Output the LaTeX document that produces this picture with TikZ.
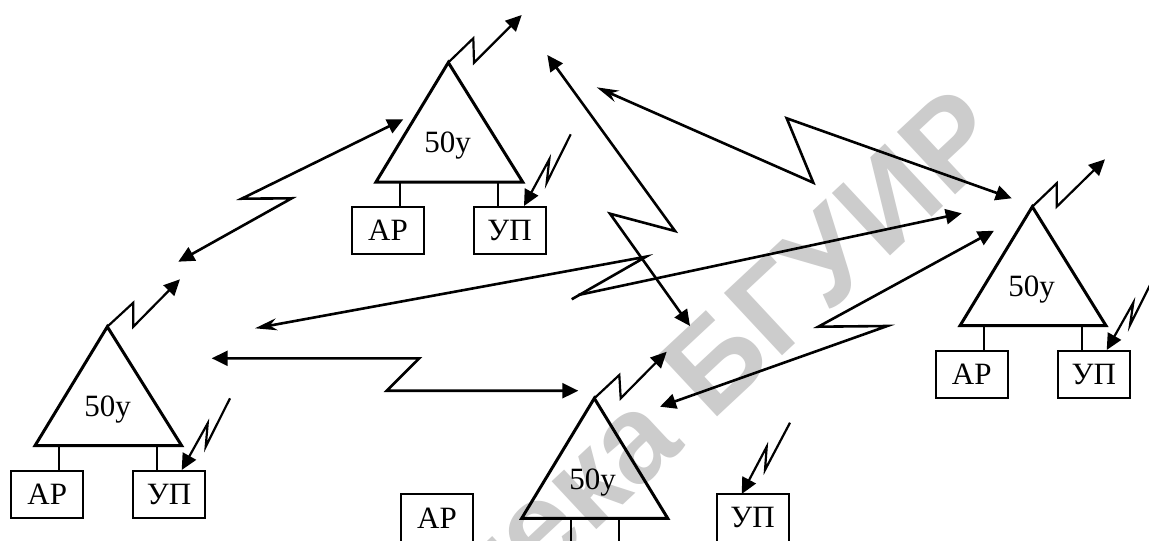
\documentclass[tikz,border=0pt]{standalone}
\usepackage{fontspec}
\setmainfont{Liberation Serif}
\newfontfamily\wmfont{Liberation Sans}
\usetikzlibrary{arrows.meta}
\tikzset{
  tri/.style={line width=1.5pt, line join=miter},
  link/.style={line width=1.3pt, line join=miter},
  zap/.style={line width=1.1pt, line join=miter},
  stub/.style={line width=1pt},
  box/.style={draw, line width=1pt, minimum width=36pt, minimum height=23.7pt, inner sep=0pt, font=\fontsize{15.5}{18}\selectfont},
  lbl/.style={font=\fontsize{15.5}{18}\selectfont, inner sep=0pt, anchor=base},
  ftip/.style={-{Triangle[length=8pt,width=7.5pt]}},
  dtip/.style={{Triangle[length=8pt,width=7.5pt]}-{Triangle[length=8pt,width=7.5pt]}},
  stip/.style={{Stealth[length=11pt,width=6pt,inset=3.5pt]}-{Triangle[length=8pt,width=7.5pt]}},
  sonly/.style={{Stealth[length=11pt,width=6pt,inset=3.5pt]}-},
  wm/.style={text=gray!40, font=\wmfont\bfseries\fontsize{62}{68}\selectfont, inner sep=0pt}
}
\begin{document}
\begin{tikzpicture}[x=0.5pt,y=-0.5pt]
\useasboundingbox (0,0) rectangle (1149,540);
\clip (0,0) rectangle (1149,540);
\fill[white] (0,0) rectangle (1149,540);
% watermark
\node[wm, rotate=43, anchor=base east] (wmark) at (1010,144) {Библиотека БГУИР};

% ---------- station 1 (top middle)
\coordinate (t1a) at (448.3,62.5);
\coordinate (t1l) at (376,182);
\coordinate (t1r) at (522.7,182);
\draw[tri] (t1a) -- (t1l) -- (t1r) -- cycle;
\node[lbl] (t1t) at (447.5,152.3) {50у};
\node[box] (t1ap) at (388,230.5) {АР};
\node[box] (t1up) at (509.5,230.5) {УП};
\draw[stub] (400,182) -- (t1ap.north -| 400,0);
\draw[stub] (497.7,182) -- (t1up.north -| 497.7,0);
\coordinate (t1e) at (521.7,15);
\draw[zap,ftip] (t1a) -- (473.3,38.3) -- (474,62.7) -- (t1e);
\coordinate (t1z) at (570.7,134.3);
\draw[zap,ftip] (t1z) -- (546.7,182.7) -- (549.3,159.3) -- (524,206);

% ---------- station 2 (left)
\coordinate (t2a) at (107.3,326.7);
\coordinate (t2l) at (35,445.7);
\coordinate (t2r) at (181.7,445.7);
\draw[tri] (t2a) -- (t2l) -- (t2r) -- cycle;
\node[lbl] (t2t) at (107.7,416.7) {50у};
\node[box] (t2ap) at (47.3,494.2) {АР};
\node[box] (t2up) at (169,494.2) {УП};
\draw[stub] (59.3,445.7) -- (t2ap.north -| 59.3,0);
\draw[stub] (156.7,445.7) -- (t2up.north -| 156.7,0);
\coordinate (t2e) at (180,279.3);
\draw[zap,ftip] (t2a) -- (133.3,302.7) -- (133.3,326.7) -- (t2e);
\coordinate (t2z) at (230,398.3);
\draw[zap,ftip] (t2z) -- (205.7,446.7) -- (207.7,423.3) -- (181.7,470);

% ---------- station 3 (right)
\coordinate (t3a) at (1032.3,206.7);
\coordinate (t3l) at (960,325.7);
\coordinate (t3r) at (1106,325.7);
\draw[tri] (t3a) -- (t3l) -- (t3r) -- cycle;
\node[lbl] (t3t) at (1031.5,296.7) {50у};
\node[box] (t3ap) at (971.7,374.2) {АР};
\node[box] (t3up) at (1093.7,374.2) {УП};
\draw[stub] (984,325.7) -- (t3ap.north -| 984,0);
\draw[stub] (1081.7,325.7) -- (t3up.north -| 1081.7,0);
\coordinate (t3e) at (1105,159.3);
\draw[zap,ftip] (t3a) -- (1056.7,183.3) -- (1056.7,206.7) -- (t3e);
\coordinate (t3z) at (1154,277);
\draw[zap,ftip] (t3z) -- (1130,325) -- (1133.3,302.7) -- (1106.7,350);

% ---------- station 4 (bottom middle)
\coordinate (t4a) at (594.3,398.3);
\coordinate (t4l) at (521.7,518.3);
\coordinate (t4r) at (667.7,518.3);
\draw[tri] (t4a) -- (t4l) -- (t4r) -- cycle;
\node[lbl] (t4t) at (592.7,489) {50у};
\node[box] (t4ap) at (437,517.8) {АР};
\node[box] (t4up) at (752.5,517.8) {УП};
\draw[stub] (570.7,518.3) -- (570.7,545);
\draw[stub] (619,518.3) -- (619,545);
\coordinate (t4e) at (666.7,351.7);
\draw[zap,ftip] (t4a) -- (619.3,375) -- (620.7,398.3) -- (t4e);
\coordinate (t4z) at (790,422.7);
\draw[zap,ftip] (t4z) -- (765,470) -- (766.7,446.7) -- (741.7,494);

% ---------- radio links
\coordinate (a1) at (403.3,119.3);
\coordinate (a2) at (178.3,261.7);
\draw[link,dtip] (a1) -- (241.7,198.7) -- (291.7,198.3) -- (a2);

\coordinate (b1) at (211.7,358.3);
\coordinate (b2) at (578.3,390.7);
\draw[link,dtip] (b1) -- (419.3,358.3) -- (386.7,390.7) -- (b2);

\coordinate (c1) at (255,328.3);
\coordinate (c2) at (961.7,213.3);
\coordinate (cz) at (571.7,299.3);
\draw[link,sonly] (c1) -- (646,256.7) -- (cz);
\draw[link,ftip] (578.3,295) -- (c2);

\coordinate (d1) at (547.3,55);
\coordinate (d2) at (690,326);
\draw[link,dtip] (d1) -- (675,231) -- (610,213.7) -- (d2);

\coordinate (e1) at (596.7,87.3);
\coordinate (e2) at (1011.7,198.3);
\draw[link,stip] (e1) -- (813.3,182.7) -- (786.7,118.3) -- (e2);

\coordinate (f1) at (660,406.7);
\coordinate (f2) at (994,230.7);
\draw[link,dtip] (f1) -- (887.3,326) -- (818.3,326.7) -- (f2);
\end{tikzpicture}
\end{document}
